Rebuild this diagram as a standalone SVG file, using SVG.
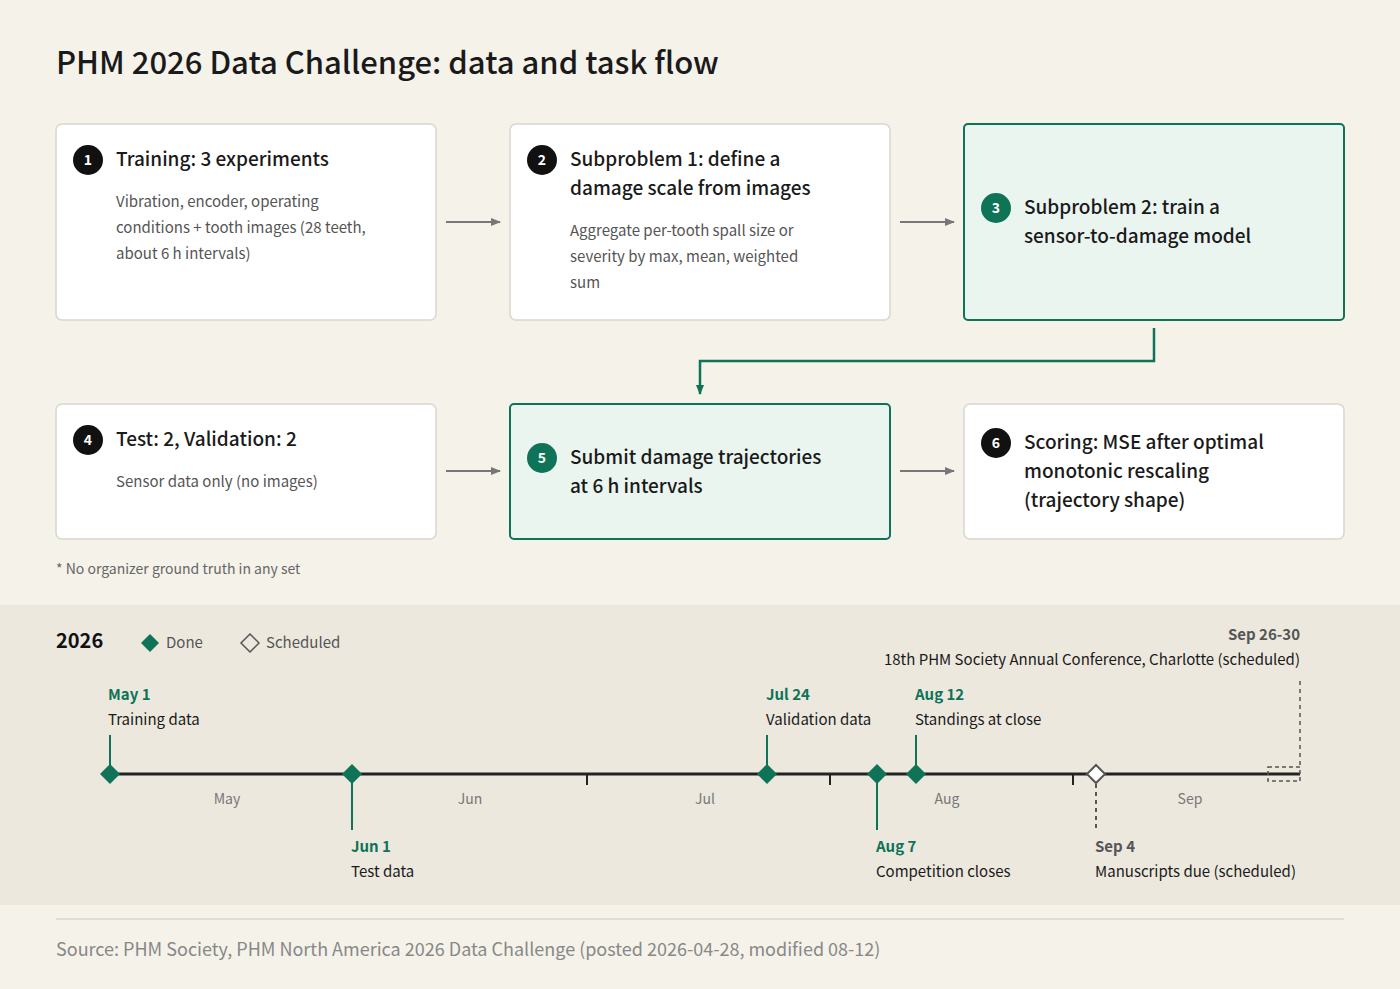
<svg xmlns="http://www.w3.org/2000/svg" width="1400" height="989" viewBox="0 0 1400 989">
<style>
text{font-family:"Noto Sans CJK KR","Noto Sans",sans-serif}
.box{fill:#fff;stroke:#d9d6cf;stroke-width:1.5}
.hl{fill:#eaf5f0;stroke:#0e7357;stroke-width:2}
.t{font-size:19px;fill:#1a1a1a;font-weight:500}
.d{font-size:15px;fill:#555}
.num{font-size:14px;fill:#fff;font-weight:700;text-anchor:middle}
.arr{stroke:#777;stroke-width:2;fill:none;marker-end:url(#ah)}
.g{font-size:15px;font-weight:700;fill:#0e7357}
.k{font-size:15px;fill:#1a1a1a}
.m{font-size:14px;fill:#777;text-anchor:middle}
.gl{stroke:#0e7357;stroke-width:2}
</style>
<defs>
<marker id="ah" markerWidth="10" markerHeight="10" refX="9" refY="5" orient="auto" markerUnits="userSpaceOnUse"><path d="M0,1 L10,5 L0,9 z" fill="#777"/></marker>
<marker id="ahg" markerWidth="10" markerHeight="10" refX="5" refY="9" orient="0" markerUnits="userSpaceOnUse"><path d="M1,0 L5,10 L9,0 z" fill="#0e7357"/></marker>
</defs>
<rect width="1400" height="989" fill="#f5f2ea"/>
<text x="56" y="74" font-size="31" font-weight="500" fill="#1a1a1a">PHM 2026 Data Challenge: data and task flow</text>

<g id="n1"><rect class="box" x="56" y="124" width="380" height="196" rx="6"/><circle cx="88" cy="160" r="15" fill="#111"/><text class="num" x="88" y="165">1</text><text class="t" x="116" y="166">Training: 3 experiments</text><text class="d" x="116" y="207">Vibration, encoder, operating</text><text class="d" x="116" y="233">conditions + tooth images (28 teeth,</text><text class="d" x="116" y="259">about 6 h intervals)</text></g>
<g id="n2"><rect class="box" x="510" y="124" width="380" height="196" rx="6"/><circle cx="542" cy="160" r="15" fill="#111"/><text class="num" x="542" y="165">2</text><text class="t" x="570" y="166">Subproblem 1: define a</text><text class="t" x="570" y="195">damage scale from images</text><text class="d" x="570" y="236">Aggregate per-tooth spall size or</text><text class="d" x="570" y="262">severity by max, mean, weighted</text><text class="d" x="570" y="288">sum</text></g>
<g id="n3"><rect class="hl" x="964" y="124" width="380" height="196" rx="4"/><circle cx="996" cy="208" r="15" fill="#0e7357"/><text class="num" x="996" y="213">3</text><text class="t" x="1024" y="214">Subproblem 2: train a</text><text class="t" x="1024" y="243">sensor-to-damage model</text></g>
<g id="n4"><rect class="box" x="56" y="404" width="380" height="135" rx="6"/><circle cx="88" cy="440" r="15" fill="#111"/><text class="num" x="88" y="445">4</text><text class="t" x="116" y="446">Test: 2, Validation: 2</text><text class="d" x="116" y="487">Sensor data only (no images)</text></g>
<g id="n5"><rect class="hl" x="510" y="404" width="380" height="135" rx="4"/><circle cx="542" cy="458" r="15" fill="#0e7357"/><text class="num" x="542" y="463">5</text><text class="t" x="570" y="464">Submit damage trajectories</text><text class="t" x="570" y="493">at 6 h intervals</text></g>
<g id="n6"><rect class="box" x="964" y="404" width="380" height="135" rx="6"/><circle cx="996" cy="443" r="15" fill="#111"/><text class="num" x="996" y="448">6</text><text class="t" x="1024" y="449">Scoring: MSE after optimal</text><text class="t" x="1024" y="478">monotonic rescaling</text><text class="t" x="1024" y="507">(trajectory shape)</text></g>

<g id="connectors">
<line class="arr" x1="446" y1="222" x2="500" y2="222"/>
<line class="arr" x1="900" y1="222" x2="954" y2="222"/>
<line class="arr" x1="446" y1="471" x2="500" y2="471"/>
<line class="arr" x1="900" y1="471" x2="954" y2="471"/>
<path d="M1154,328 V361 H700 V394" stroke="#0e7357" stroke-width="2.5" fill="none" marker-end="url(#ahg)"/>
</g>

<text x="56" y="574" font-size="14" fill="#666">* No organizer ground truth in any set</text>

<g id="timeline">
<rect x="0" y="605" width="1400" height="300" fill="#ece8de"/>
<text x="56" y="648" font-size="20" font-weight="700" fill="#111">2026</text>
<path d="M150,634 l9,9 l-9,9 l-9,-9z" fill="#0e7357"/><text x="166" y="648" font-size="15" fill="#555">Done</text>
<path d="M250,634 l9,9 l-9,9 l-9,-9z" fill="none" stroke="#555" stroke-width="1.5"/><text x="266" y="648" font-size="15" fill="#555">Scheduled</text>
<line x1="110" y1="774" x2="1300" y2="774" stroke="#222" stroke-width="3"/>
<g stroke="#222" stroke-width="2"><line x1="587" y1="774" x2="587" y2="785"/><line x1="830" y1="774" x2="830" y2="785"/><line x1="1073" y1="774" x2="1073" y2="785"/></g>
<text class="m" x="227" y="804">May</text><text class="m" x="470" y="804">Jun</text><text class="m" x="705" y="804">Jul</text><text class="m" x="947" y="804">Aug</text><text class="m" x="1190" y="804">Sep</text>
<line class="gl" x1="110" y1="735" x2="110" y2="774"/><path d="M110,764 l10,10 l-10,10 l-10,-10z" fill="#0e7357"/>
<text class="g" x="108" y="700">May 1</text><text class="k" x="108" y="725">Training data</text>
<line class="gl" x1="352" y1="774" x2="352" y2="830"/><path d="M352,764 l10,10 l-10,10 l-10,-10z" fill="#0e7357"/>
<text class="g" x="351" y="852">Jun 1</text><text class="k" x="351" y="877">Test data</text>
<line class="gl" x1="767" y1="735" x2="767" y2="774"/><path d="M767,764 l10,10 l-10,10 l-10,-10z" fill="#0e7357"/>
<text class="g" x="766" y="700">Jul 24</text><text class="k" x="766" y="725">Validation data</text>
<line class="gl" x1="877" y1="774" x2="877" y2="830"/><path d="M877,764 l10,10 l-10,10 l-10,-10z" fill="#0e7357"/>
<text class="g" x="876" y="852">Aug 7</text><text class="k" x="876" y="877">Competition closes</text>
<line class="gl" x1="916" y1="735" x2="916" y2="774"/><path d="M916,764 l10,10 l-10,10 l-10,-10z" fill="#0e7357"/>
<text class="g" x="915" y="700">Aug 12</text><text class="k" x="915" y="725">Standings at close</text>
<line x1="1096" y1="784" x2="1096" y2="830" stroke="#555" stroke-width="2" stroke-dasharray="4,4"/>
<path d="M1096,765 l9,9 l-9,9 l-9,-9z" fill="#fff" stroke="#555" stroke-width="2"/>
<text x="1095" y="852" font-size="15" font-weight="700" fill="#555">Sep 4</text><text class="k" x="1095" y="877">Manuscripts due (scheduled)</text>
<rect x="1268" y="767" width="32" height="14" fill="none" stroke="#555" stroke-width="1.5" stroke-dasharray="4,3"/>
<line x1="1300" y1="681" x2="1300" y2="767" stroke="#555" stroke-width="1.5" stroke-dasharray="4,4"/>
<text x="1300" y="640" font-size="15" font-weight="700" fill="#555" text-anchor="end">Sep 26-30</text>
<text class="k" x="1300" y="665" text-anchor="end">18th PHM Society Annual Conference, Charlotte (scheduled)</text>
</g>
<line x1="56" y1="919" x2="1344" y2="919" stroke="#d9d6cf" stroke-width="1.5"/>
<text x="56" y="956" font-size="18" fill="#888">Source: PHM Society, PHM North America 2026 Data Challenge (posted 2026-04-28, modified 08-12)</text>
</svg>
